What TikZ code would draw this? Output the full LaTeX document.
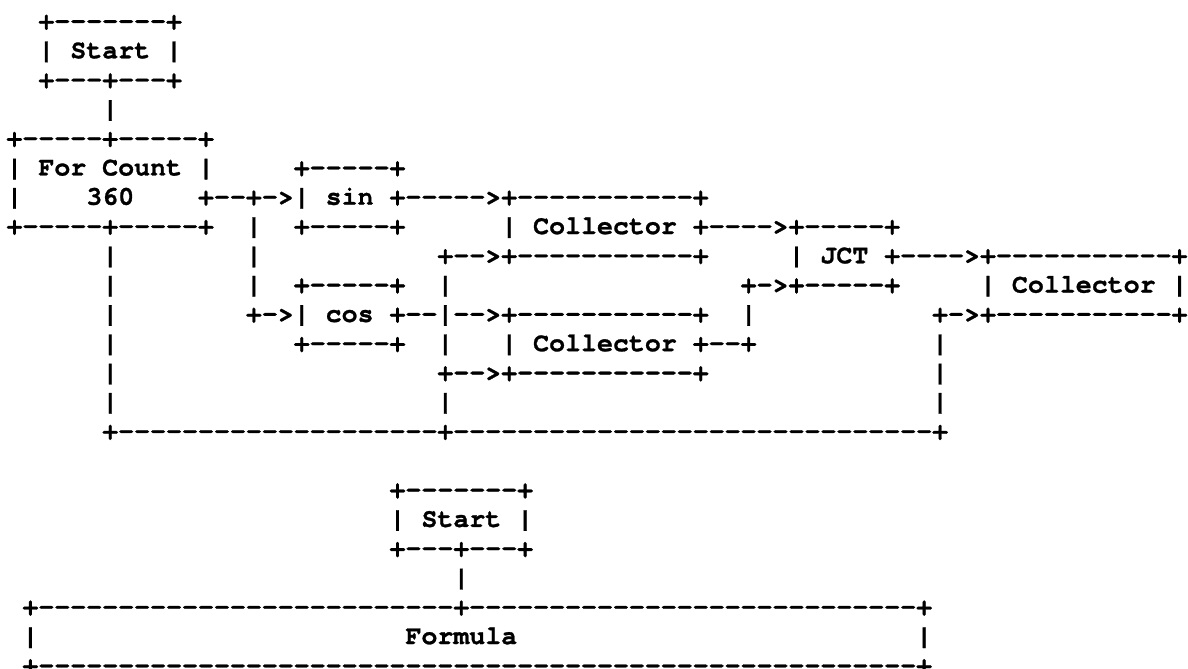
\documentclass[tikz,border=0pt]{standalone}
\usepackage{fontspec}
\setmonofont{texgyrecursor}[Extension=.otf, UprightFont=*-regular, BoldFont=*-bold,
  BoldFeatures={FakeBold=1}]
\usepackage{tikz}

\tikzset{
  asc/.style={anchor=base west, inner sep=0pt, outer sep=0pt,
    font=\ttfamily\bfseries\fontsize{26.6pt}{29.29pt}\selectfont}
}

\begin{document}
\begin{tikzpicture}[x=15.96pt,y=-29.29pt]
            \useasboundingbox (-0.407,-0.99) rectangle (74.03,21.85);
            % upper chart
            \node[asc] (A0) at (2,0) {+-------+};
            \node[asc] (A1) at (2,1) {| Start |};
            \node[asc] (A2) at (2,2) {+---+---+};
            \node[asc] (A3) at (6,3) {|};
            \node[asc] (B0) at (0,4) {+-----+-----+};
            \node[asc] (B1) at (0,5) {| For Count |};
            \node[asc] (C0) at (18,5) {+-----+};
            \node[asc] (B2) at (0,6) {|};
            \node[asc] (B3) at (5,6) {360};
            \node[asc] (C1) at (12,6) {+--+->| sin +----->+-----------+};
            \node[asc] (B4) at (0,7) {+-----+-----+};
            \node[asc] (D0) at (15,7) {|};
            \node[asc] (C2) at (18,7) {+-----+};
            \node[asc] (E0) at (31,7) {| Collector +---->+-----+};
            \node[asc] (B5) at (6,8) {|};
            \node[asc] (D1) at (15,8) {|};
            \node[asc] (E1) at (27,8) {+-->+-----------+};
            \node[asc] (F0) at (49,8) {| JCT +---->+-----------+};
            \node[asc] (B6) at (6,9) {|};
            \node[asc] (D2) at (15,9) {|};
            \node[asc] (G0) at (18,9) {+-----+};
            \node[asc] (H0) at (27,9) {|};
            \node[asc] (F1) at (46,9) {+->+-----+};
            \node[asc] (K0) at (61,9) {| Collector |};
            \node[asc] (B7) at (6,10) {|};
            \node[asc] (G1) at (15,10) {+->| cos +--|-->+-----------+};
            \node[asc] (F2) at (46,10) {|};
            \node[asc] (K1) at (58,10) {+->+-----------+};
            \node[asc] (B8) at (6,11) {|};
            \node[asc] (G2) at (18,11) {+-----+};
            \node[asc] (H1) at (27,11) {|};
            \node[asc] (H2) at (31,11) {| Collector +--+};
            \node[asc] (K2) at (58,11) {|};
            \node[asc] (B9) at (6,12) {|};
            \node[asc] (H3) at (27,12) {+-->+-----------+};
            \node[asc] (K3) at (58,12) {|};
            \node[asc] (B10) at (6,13) {|};
            \node[asc] (H4) at (27,13) {|};
            \node[asc] (K4) at (58,13) {|};
            \node[asc] (L0) at (6,14) {+--------------------+------------------------------+};
            % lower chart
            \node[asc] (M0) at (24,16) {+-------+};
            \node[asc] (M1) at (24,17) {| Start |};
            \node[asc] (M2) at (24,18) {+---+---+};
            \node[asc] (M3) at (28,19) {|};
            \node[asc] (N0) at (1,20) {+--------------------------+----------------------------+};
            \node[asc] (N1) at (1,21) {|};
            \node[asc] (N2) at (25,21) {Formula};
            \node[asc] (N3) at (57,21) {|};
            \node[asc] (N4) at (1,22) {+-------------------------------------------------------+};
        \end{tikzpicture}
\end{document}
